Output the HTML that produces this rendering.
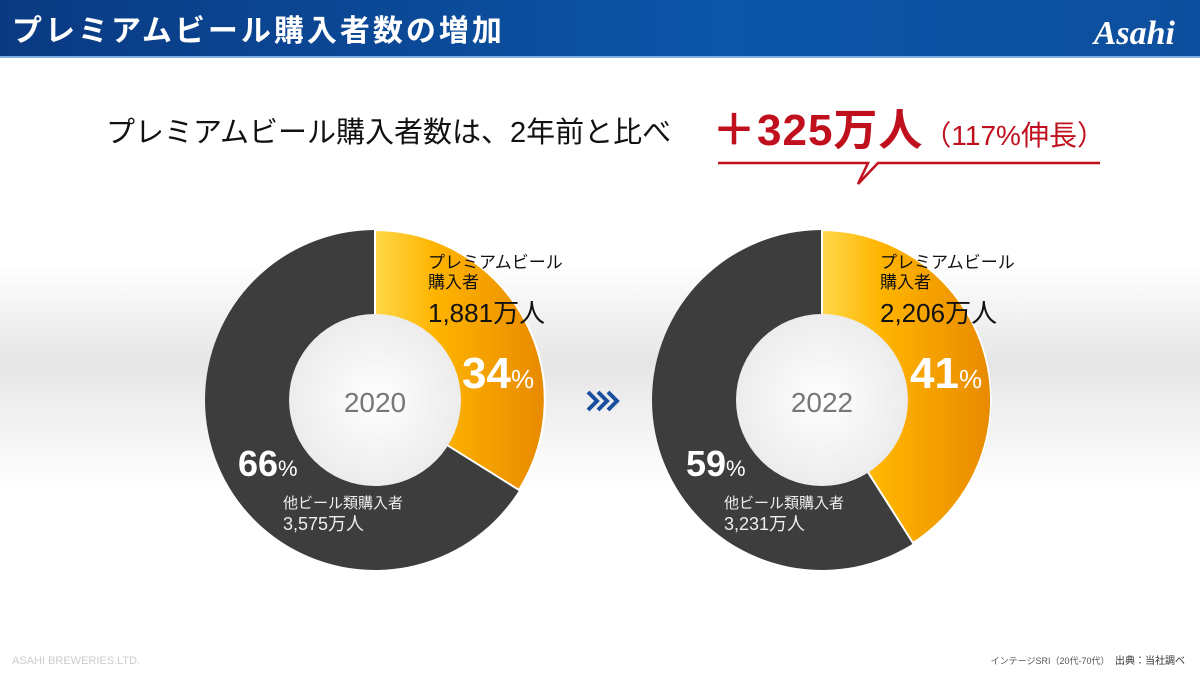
<!DOCTYPE html>
<html><head><meta charset="utf-8"><style>
body{margin:0;width:1200px;height:674px;overflow:hidden;font-family:"Liberation Sans","Noto Sans CJK JP",sans-serif;}
</style></head><body>
<svg width="1200" height="674" xmlns="http://www.w3.org/2000/svg" style="display:block">
<defs>
<linearGradient id="hdr" x1="0" x2="1"><stop offset="0" stop-color="#0a3a82"/><stop offset="0.6" stop-color="#0c55a8"/><stop offset="1" stop-color="#0d4f9e"/></linearGradient>
<linearGradient id="band" x1="0" y1="0" x2="0" y2="1"><stop offset="0" stop-color="#fff"/><stop offset="0.45" stop-color="#e6e6e6"/><stop offset="1" stop-color="#fff"/></linearGradient>
<linearGradient id="org" x1="0" x2="1"><stop offset="0" stop-color="#ffd84a"/><stop offset="0.35" stop-color="#ffb400"/><stop offset="1" stop-color="#e88a00"/></linearGradient>
<radialGradient id="hole"><stop offset="0" stop-color="#fff"/><stop offset="1" stop-color="#ececec"/></radialGradient>
</defs>
<rect width="1200" height="674" fill="#fff"/>
<rect y="260" width="1200" height="230" fill="url(#band)"/>
<rect width="1200" height="57" fill="url(#hdr)"/>
<rect y="56" width="1200" height="2" fill="#7fb0e0"/>
<text x="12" y="41" fill="#fff" font-size="30" font-weight="bold" letter-spacing="3">プレミアムビール購入者数の増加</text>
<text x="1175" y="44" fill="#fff" font-size="34" font-weight="bold" font-style="italic" text-anchor="end" font-family="Liberation Serif,serif">Asahi</text>
<text x="106" y="142" fill="#111" font-size="29">プレミアムビール購入者数は、2年前と比べ</text>
<text x="712" y="145" fill="#c0101e" font-size="44" font-weight="bold" letter-spacing="1">＋325万人<tspan font-size="28" font-weight="normal" letter-spacing="0">（117%伸長）</tspan></text>
<polyline points="718,163 868,163 858,184 878,163 1100,163" fill="none" stroke="#c0101e" stroke-width="2.5"/>
<!-- donut 1 -->
<circle cx="375" cy="400" r="170" fill="#3d3d3d"/>
<path d="M375,230 A170,170 0 0 1 519,490 L375,400 Z" fill="url(#org)" stroke="#fff" stroke-width="2"/>
<circle cx="375" cy="400" r="86" fill="url(#hole)"/>
<text x="375" y="412" fill="#777" font-size="28" text-anchor="middle">2020</text>
<text x="428" y="268" fill="#111" font-size="17">プレミアムビール</text>
<text x="428" y="288" fill="#111" font-size="17">購入者</text>
<text x="428" y="322" fill="#111" font-size="26">1,881万人</text>
<text x="462" y="388" fill="#fff" font-size="44" font-weight="bold">34<tspan font-size="26" font-weight="normal">%</tspan></text>
<text x="238" y="476" fill="#fff" font-size="36" font-weight="bold">66<tspan font-size="22" font-weight="normal">%</tspan></text>
<text x="283" y="508" fill="#eee" font-size="15">他ビール類購入者</text>
<text x="283" y="530" fill="#eee" font-size="18">3,575万人</text>
<!-- arrow -->
<g fill="none" stroke="#1a4fa0" stroke-width="4">
<polyline points="588,392 597,401 588,410"/>
<polyline points="598,392 607,401 598,410"/>
<polyline points="608,392 617,401 608,410"/>
</g>
<!-- donut 2 -->
<circle cx="822" cy="400" r="170" fill="#3d3d3d"/>
<path d="M822,230 A170,170 0 0 1 913,543 L822,400 Z" fill="url(#org)" stroke="#fff" stroke-width="2"/>
<circle cx="822" cy="400" r="86" fill="url(#hole)"/>
<text x="822" y="412" fill="#777" font-size="28" text-anchor="middle">2022</text>
<text x="880" y="268" fill="#111" font-size="17">プレミアムビール</text>
<text x="880" y="288" fill="#111" font-size="17">購入者</text>
<text x="880" y="322" fill="#111" font-size="26">2,206万人</text>
<text x="910" y="388" fill="#fff" font-size="44" font-weight="bold">41<tspan font-size="26" font-weight="normal">%</tspan></text>
<text x="686" y="476" fill="#fff" font-size="36" font-weight="bold">59<tspan font-size="22" font-weight="normal">%</tspan></text>
<text x="724" y="508" fill="#eee" font-size="15">他ビール類購入者</text>
<text x="724" y="530" fill="#eee" font-size="18">3,231万人</text>
<text x="12" y="664" fill="#ccc" font-size="11">ASAHI BREWERIES.LTD.</text>
<text x="1185" y="664" fill="#333" font-size="10" text-anchor="end"><tspan font-size="9" fill="#555">インテージSRI（20代-70代）</tspan>　出典：当社調べ</text>
</svg>
</body></html>
